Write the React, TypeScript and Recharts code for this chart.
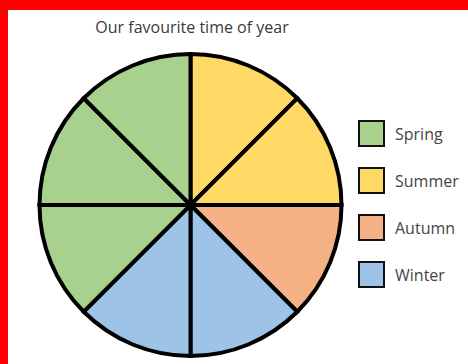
import { PieChart, Pie, Cell, Legend } from 'recharts'

const title = 'Our favourite time of year'

const seasons = ['Spring', 'Summer', 'Autumn', 'Winter']
const seasonColors = ['#a9d18e', '#ffd966', '#f4b183', '#9dc3e6']

// slices going clockwise from 12 o'clock, one vote each
const sliceSeasons = ['Summer', 'Summer', 'Autumn', 'Winter', 'Winter', 'Spring', 'Spring', 'Spring']
const sliceVotes = [1, 1, 1, 1, 1, 1, 1, 1]

const data = sliceSeasons.map((season, i) => ({ name: season, value: sliceVotes[i] }))

const colorOf = (season: string) => seasonColors[seasons.indexOf(season)]

function SeasonLegend() {
  return (
    <div style={{ display: 'flex', flexDirection: 'column', gap: 20 }}>
      {seasons.map((s) => (
        <div key={s} style={{ display: 'flex', alignItems: 'center', height: 27 }}>
          <div
            style={{
              width: 23,
              height: 23,
              background: colorOf(s),
              border: '2px solid #111',
              marginRight: 10,
            }}
          />
          <span style={{ fontSize: 16, color: '#444' }}>{s}</span>
        </div>
      ))}
    </div>
  )
}

export default function App() {
  return (
    <div
      style={{
        position: 'absolute',
        left: 0,
        top: 0,
        width: 468,
        height: 364,
        background: '#ff0000',
        fontFamily: 'Open Sans, sans-serif',
      }}
    >
      <div
        style={{
          position: 'absolute',
          left: 8,
          top: 10,
          width: 460,
          height: 354,
          background: '#ffffff',
        }}
      />
      <div
        style={{
          position: 'absolute',
          left: 0,
          top: 16,
          width: 384,
          textAlign: 'center',
          fontSize: 16,
          color: '#3a3a3a',
        }}
      >
        {title}
      </div>
      <div style={{ position: 'absolute', left: 0, top: 0 }}>
        <PieChart width={468} height={364} margin={{ top: 0, right: 0, bottom: 0, left: 0 }}>
          <Pie
            data={data}
            dataKey="value"
            nameKey="name"
            cx={190.5}
            cy={205}
            outerRadius={151}
            startAngle={90}
            endAngle={-270}
            stroke="#000"
            strokeWidth={4}
            isAnimationActive={false}
          >
            {data.map((d, i) => (
              <Cell key={i} fill={colorOf(d.name)} stroke="#000" strokeWidth={4} />
            ))}
          </Pie>
          <Legend
            content={() => <SeasonLegend />}
            wrapperStyle={{ position: 'absolute', left: 358, top: 120, width: 110, bottom: 'auto' }}
          />
        </PieChart>
      </div>
    </div>
  )
}
